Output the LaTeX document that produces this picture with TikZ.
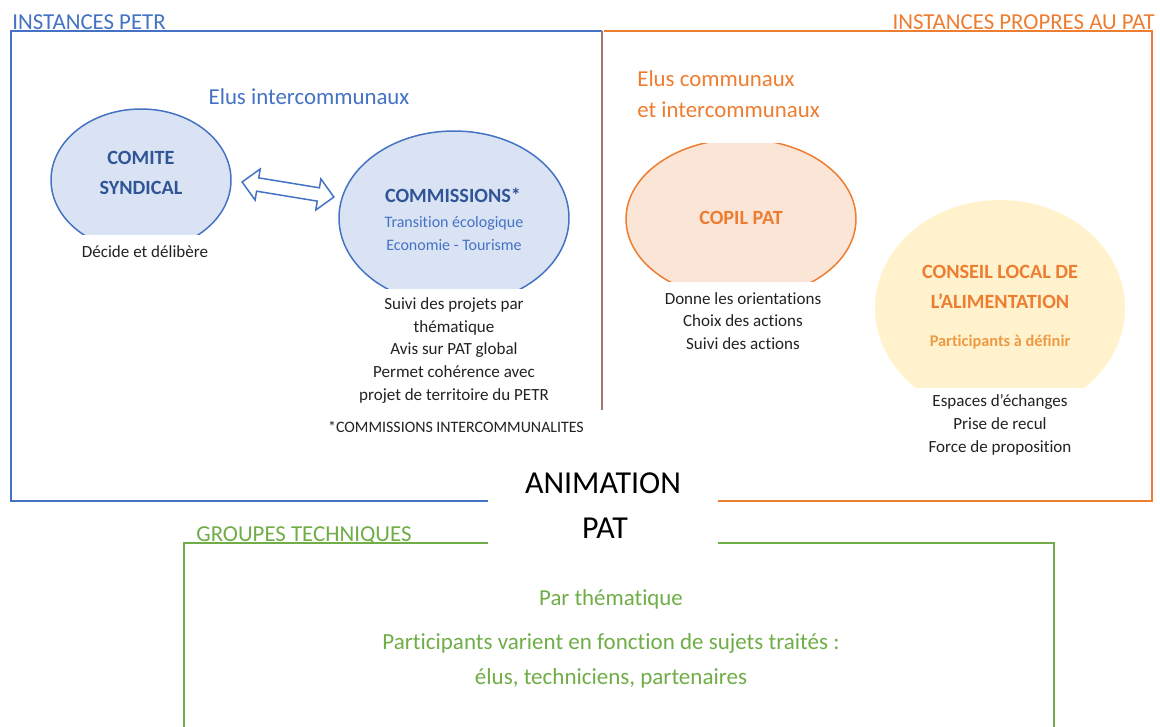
\documentclass[tikz,border=0pt]{standalone}
\usepackage{fontspec}
\setmainfont[Ligatures={NoCommon}]{Carlito}
\usetikzlibrary{shapes.arrows}
\definecolor{bl}{HTML}{4472C4}
\definecolor{blfill}{HTML}{DAE3F3}
\definecolor{dbl}{HTML}{2F5597}
\definecolor{orng}{HTML}{ED7D31}
\definecolor{orfill}{HTML}{FBE5D6}
\definecolor{yel}{HTML}{FFF2CC}
\definecolor{lor}{HTML}{EE9A45}
\definecolor{grn}{HTML}{70AD47}
\definecolor{txt}{HTML}{222222}
\begin{document}
\begin{tikzpicture}[x=0.02cm,y=-0.02cm,
  frame/.style={line width=0.85pt},
  ttl/.style={font=\fontsize{13}{15}\selectfont, anchor=base, inner sep=0pt},
  big/.style={font=\fontsize{13}{17.6}\selectfont, inner sep=0pt},
  head/.style={font=\bfseries\fontsize{11.5}{17}\selectfont, align=center, inner sep=0pt},
  sub/.style={font=\fontsize{9.1}{13}\selectfont, align=center, inner sep=0pt, text=bl},
  desc/.style={font=\fontsize{9.7}{12.9}\selectfont, align=center, inner sep=0pt, text=txt},
  anim/.style={font=\fontsize{18.2}{20}\selectfont, inner sep=0pt, text=black}]
\useasboundingbox (0,0) rectangle (1160,727);
\fill[white] (0,0) rectangle (1160,727);

% frames
\draw[frame, bl] (602,31) -- (11,31) -- (11,501) -- (488,501);
\draw[frame, bl] (602,31) -- (602,410);
\draw[frame, orng, opacity=0.55] (602,31) -- (602,410);
\draw[frame, orng] (604,31) -- (1152,31) -- (1152,501) -- (718,501);
\draw[frame, grn] (488,543) -- (184,543) -- (184,730);
\draw[frame, grn] (718,543) -- (1054,543) -- (1054,730);

% titles
\node[ttl, text=bl, anchor=base west] (t1) at (12,29.5) {INSTANCES PETR};
\node[ttl, text=orng, anchor=base east] (t2) at (1155,29.5) {INSTANCES PROPRES AU PAT};
\node[ttl, text=grn, anchor=base west] (t3) at (196,541) {GROUPES TECHNIQUES};

% ellipses
\begin{scope}
  \clip (0,0) rectangle (300,234);
  \draw[bl, fill=blfill, line width=0.85pt] (141,180) ellipse [x radius=90, y radius=71];
\end{scope}
\begin{scope}
  \clip (300,0) rectangle (600,288);
  \draw[bl, fill=blfill, line width=0.85pt] (454,218) ellipse [x radius=115, y radius=87];
\end{scope}
\begin{scope}
  \clip (610,143) rectangle (880,281);
  \draw[orng, fill=orfill, line width=0.85pt] (741,219) ellipse [x radius=115, y radius=80];
\end{scope}
\begin{scope}
  \clip (860,150) rectangle (1150,387);
  \fill[yel] (1000,308) ellipse [x radius=125, y radius=108];
\end{scope}

% left group
\node[big, text=bl] (elus1) at (309,97) {Elus intercommunaux};
\node[head, text=dbl] (comite) at (141,173) {COMITE\\SYNDICAL};
\node[desc] (decide) at (145,252) {Décide et délibère};
\node[head, text=dbl] (commi) at (453,195) {COMMISSIONS*};
\node[sub] (commsub) at (454,233.5) {Transition écologique\\Economie - Tourisme};
\node[desc] (suivi) at (454,350.5) {Suivi des projets par\\thématique\\Avis sur PAT global\\Permet cohérence avec\\projet de territoire du PETR};
\node[desc, font=\fontsize{9.05}{12}\selectfont] (note) at (456,427) {*COMMISSIONS INTERCOMMUNALITES};
\node[double arrow, draw=bl, fill=white, line width=0.85pt, inner sep=0.12cm,
      minimum height=1.86cm, double arrow head extend=0.18cm, rotate=-9.3] (arr) at (288,189.5) {};

% right group
\node[big, text=orng, anchor=west, align=left] (elus2) at (637,94.5) {Elus communaux\\et intercommunaux};
\node[head, text=orng] (copil) at (741,218) {COPIL PAT};
\node[desc] (donne) at (743,321) {Donne les orientations\\Choix des actions\\Suivi des actions};
\node[head, text=orng] (conseil) at (1000,287) {CONSEIL LOCAL DE\\L’ALIMENTATION};
\node[head, text=lor, font=\bfseries\fontsize{9.3}{11}\selectfont] (part) at (1000,342) {Participants à définir};
\node[desc] (esp) at (1000,425) {Espaces d’échanges\\Prise de recul\\Force de proposition};

% animation
\node[anim] (anim1) at (603,483) {ANIMATION};
\node[anim] (anim2) at (605,528) {PAT};

% bottom group
\node[big, text=grn] (parth) at (611,599) {Par thématique};
\node[big, text=grn, align=center, font=\fontsize{13.1}{19.8}\selectfont] (partv) at (611,660.5) {Participants varient en fonction de sujets traités :\\élus, techniciens, partenaires};
\end{tikzpicture}
\end{document}
